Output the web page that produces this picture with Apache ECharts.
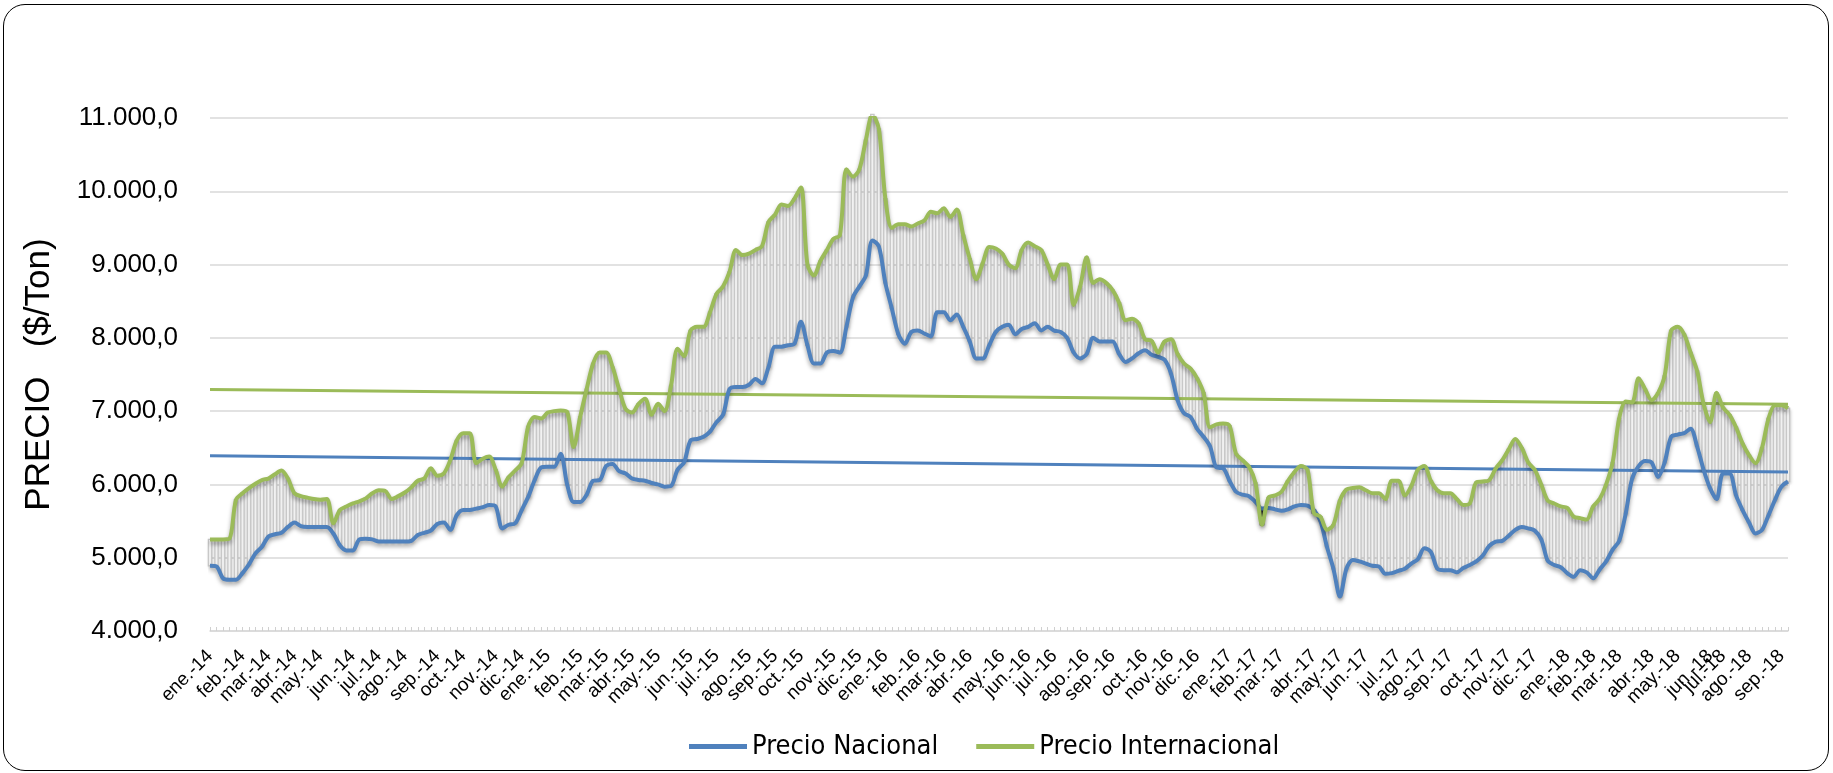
<!DOCTYPE html>
<html>
<head>
<meta charset="utf-8">
<script src="https://cdn.jsdelivr.net/npm/echarts@6/dist/echarts.min.js"></script>
<style>
  html, body { margin: 0; padding: 0; background: #fff; }
  #chart { width: 1833px; height: 773px; }
  #frame { position: absolute; left: 3px; top: 4px; width: 1824px; height: 765px;
           border: 1.5px solid #000; border-radius: 22px; pointer-events: none; }
</style>
</head>
<body>
<div id="chart"></div>
<div id="frame"></div>
<script>
// etiquetas de mes y cantidad de semanas (puntos) por mes
const monthLabels = [
  'ene.-14','feb.-14','mar.-14','abr.-14','may.-14','jun.-14','jul.-14','ago.-14','sep.-14','oct.-14','nov.-14','dic.-14',
  'ene.-15','feb.-15','mar.-15','abr.-15','may.-15','jun.-15','jul.-15','ago.-15','sep.-15','oct.-15','nov.-15','dic.-15',
  'ene.-16','feb.-16','mar.-16','abr.-16','may.-16','jun.-16','jul.-16','ago.-16','sep.-16','oct.-16','nov.-16','dic.-16',
  'ene.-17','feb.-17','mar.-17','abr.-17','may.-17','jun.-17','jul.-17','ago.-17','sep.-17','oct.-17','nov.-17','dic.-17',
  'ene.-18','feb.-18','mar.-18','abr.-18','may.-18','jun.-18','jul.-18','ago.-18','sep.-18'
];
const weeksPerMonth = [
  5,4,4,4,5,4,4,5,4,5,4,4,
  5,4,4,4,5,4,5,4,4,5,4,4,
  5,4,4,5,4,4,5,4,5,4,4,5,
  4,4,5,4,4,5,4,4,5,4,4,5,
  4,4,5,4,5,2,4,5,2
];

// precios semanales ($/Ton)
const precioNacional = [
  4890, 4880, 4720, 4700, 4700, 4790, 4910, 5060, 5150, 5290,
  5320, 5340, 5420, 5480, 5430, 5420, 5420, 5420, 5420, 5330,
  5170, 5100, 5100, 5250, 5260, 5250, 5220, 5220, 5220, 5220,
  5220, 5230, 5310, 5340, 5370, 5460, 5480, 5380, 5580, 5650,
  5650, 5670, 5690, 5720, 5700, 5400, 5450, 5470, 5650, 5830,
  6060, 6230, 6240, 6240, 6420, 6000, 5760, 5760, 5860, 6050,
  6060, 6250, 6280, 6180, 6150, 6080, 6060, 6050, 6020, 6000,
  5970, 5980, 6200, 6300, 6600, 6620, 6650, 6720, 6850, 6950,
  7300, 7330, 7330, 7360, 7440, 7380, 7600, 7880, 7880, 7900,
  7920, 8220, 7900, 7650, 7650, 7800, 7820, 7800, 8150, 8550,
  8700, 8850, 9330, 9250, 8750, 8400, 8050, 7920, 8080, 8100,
  8060, 8020, 8350, 8350, 8240, 8320, 8150, 7950, 7720, 7720,
  7900, 8080, 8150, 8180, 8050, 8120, 8150, 8200, 8100, 8150,
  8100, 8080, 8000, 7800, 7720, 7780, 8000, 7950, 7950, 7950,
  7780, 7670, 7720, 7790, 7830, 7770, 7740, 7700, 7510, 7150,
  6970, 6920, 6760, 6650, 6520, 6230, 6220, 6050, 5900, 5860,
  5840, 5760, 5670, 5680, 5660, 5640, 5660, 5700, 5720, 5710,
  5650, 5500, 5150, 4850, 4470, 4850, 4970, 4950, 4920, 4890,
  4880, 4780, 4790, 4820, 4850, 4920, 4980, 5130, 5080, 4850,
  4830, 4830, 4800, 4860, 4900, 4950, 5030, 5160, 5220, 5230,
  5300, 5380, 5420, 5400, 5370, 5250, 4960, 4900, 4870, 4790,
  4740, 4830, 4800, 4720, 4840, 4950, 5110, 5230, 5600, 6080,
  6250, 6320, 6300, 6100, 6300, 6650, 6680, 6700, 6760, 6520,
  6200, 5950, 5800, 6150, 6150, 5850, 5650, 5480, 5330, 5380,
  5580, 5790, 5970, 6040
];
const precioInternacional = [
  5250, 5250, 5250, 5260, 5790, 5880, 5950, 6010, 6060, 6080,
  6140, 6190, 6080, 5880, 5840, 5820, 5800, 5790, 5800, 5470,
  5650, 5700, 5740, 5770, 5810, 5880, 5920, 5910, 5800, 5840,
  5890, 5960, 6050, 6080, 6220, 6120, 6150, 6330, 6600, 6700,
  6700, 6290, 6350, 6380, 6200, 5970, 6100, 6190, 6290, 6790,
  6920, 6900, 6980, 7000, 7010, 6990, 6510, 6920, 7300, 7650,
  7800, 7800, 7600, 7300, 7030, 6980, 7100, 7170, 6950, 7100,
  7000, 7350, 7850, 7750, 8100, 8150, 8150, 8350, 8600, 8700,
  8900, 9200, 9130, 9150, 9200, 9250, 9580, 9680, 9820, 9800,
  9900, 10050, 9000, 8850, 9050, 9200, 9350, 9400, 10300, 10200,
  10300, 10700, 11050, 10850, 9900, 9500, 9550, 9550, 9520, 9560,
  9600, 9720, 9700, 9770, 9650, 9750, 9400, 9080, 8800, 9020,
  9240, 9220, 9150, 9000, 8950, 9200, 9300, 9250, 9200, 9000,
  8800, 9000, 9000, 8450, 8700, 9100, 8750, 8800, 8750, 8650,
  8480, 8240, 8260, 8200, 7980, 7960, 7800, 7950, 7980, 7780,
  7650, 7580, 7450, 7250, 6780, 6820, 6830, 6800, 6420, 6330,
  6240, 6020, 5450, 5820, 5850, 5900, 6050, 6170, 6250, 6200,
  5610, 5560, 5380, 5450, 5780, 5930, 5950, 5960, 5920, 5880,
  5880, 5800, 6050, 6050, 5850, 5980, 6200, 6250, 6050, 5920,
  5880, 5880, 5800, 5720, 5740, 6030, 6040, 6060, 6220, 6330,
  6480, 6620, 6500, 6300, 6200, 6000, 5780, 5740, 5700, 5680,
  5560, 5540, 5520, 5700, 5800, 6000, 6300, 6900, 7130, 7120,
  7450, 7300, 7150, 7250, 7480, 8100, 8150, 8050, 7800, 7550,
  7100, 6850, 7250, 7050, 6950, 6780, 6560, 6400, 6290, 6500,
  6900, 7080, 7080, 7040
];
// líneas de tendencia (inicio, fin)
const trendNacional = [6390, 6170];
const trendInternacional = [7295, 7095];

const yTicks = { min: 4000, max: 11000, step: 1000 };

// categorías: una por semana, etiqueta sólo en la primera de cada mes
const categories = [];
const monthStart = new Set();
monthLabels.forEach((m, k) => {
  monthStart.add(categories.length);
  for (let w = 0; w < weeksPerMonth[k]; w++) categories.push(m + '#' + w);
});
const last = categories.length - 1;

const fmtNum = v => Math.round(v).toString().replace(/\B(?=(\d{3})+(?!\d))/g, '.') + ',0';

let chartDom = document.getElementById('chart');
let chart = echarts.init(chartDom);
var option;

option = {
    animation: false,
    textStyle: { fontFamily: 'Liberation Sans, Arial, sans-serif' },
    grid: { left: 210, right: 45, top: 118, bottom: 142 },
    legend: {
        data: ['Precio Nacional', 'Precio Internacional'],
        left: 684,
        top: 728,
        icon: 'rect',
        itemWidth: 58,
        itemHeight: 5,
        itemGap: 38,
        textStyle: { fontSize: 27, color: '#000', fontFamily: 'Liberation Sans Narrow, DejaVu Sans Condensed, sans-serif' }
    },
    xAxis: {
        type: 'category',
        data: categories,
        boundaryGap: false,
        axisLine: { lineStyle: { color: '#d9d9d9', width: 1.5 } },
        axisTick: { show: true, interval: 0, inside: true, length: 4, lineStyle: { color: '#d0d0d0' } },
        axisLabel: {
            interval: idx => monthStart.has(idx),
            rotate: 45,
            margin: 22,
            fontSize: 19,
            color: '#000',
            formatter: v => v.split('#')[0]
        },
        splitLine: { show: false }
    },
    yAxis: {
        type: 'value',
        min: yTicks.min,
        max: yTicks.max,
        interval: yTicks.step,
        axisLine: { show: false },
        axisTick: { show: false },
        axisLabel: { fontSize: 26, color: '#000', margin: 32, formatter: fmtNum },
        splitLine: { lineStyle: { color: '#d9d9d9', width: 1.5 } },
        name: 'PRECIO   ($/Ton)',
        nameLocation: 'middle',
        nameGap: 153,
        nameTextStyle: { fontSize: 35, color: '#000' }
    },
    series: [
        {
            // barras ascendentes / descendentes entre ambas series
            name: 'barras',
            type: 'custom',
            silent: true,
            z: 1,
            data: precioNacional.map((v, i) => [i, v, precioInternacional[i]]),
            encode: { x: 0, y: [1, 2] },
            renderItem: function (params, api) {
                const i = api.value(0);
                const lo = api.coord([i, api.value(1)]);
                const hi = api.coord([i, api.value(2)]);
                const w = api.size([1, 0])[0] * 0.5;
                const down = api.value(2) < api.value(1);
                return {
                    type: 'rect',
                    shape: { x: lo[0] - w / 2, y: Math.min(lo[1], hi[1]), width: w, height: Math.abs(lo[1] - hi[1]) },
                    style: {
                        fill: down ? '#404040' : '#ffffff',
                        stroke: down ? '#404040' : '#c8c8c8',
                        lineWidth: 1.4,
                        shadowColor: 'rgba(0,0,0,0.13)',
                        shadowBlur: 3,
                        shadowOffsetX: 1,
                        shadowOffsetY: 2
                    }
                };
            }
        },
        {
            name: 'tendencia nacional',
            type: 'line',
            z: 2,
            silent: true,
            showSymbol: false,
            data: [[0, trendNacional[0]], [last, trendNacional[1]]],
            lineStyle: { color: '#4f81bd', width: 3 }
        },
        {
            name: 'tendencia internacional',
            type: 'line',
            z: 2,
            silent: true,
            showSymbol: false,
            data: [[0, trendInternacional[0]], [last, trendInternacional[1]]],
            lineStyle: { color: '#9bbb59', width: 3 }
        },
        {
            name: 'Precio Nacional',
            type: 'line',
            z: 3,
            showSymbol: false,
            smooth: 0.3,
            data: precioNacional,
            itemStyle: { color: '#4f81bd' },
            lineStyle: { color: '#4f81bd', width: 4, shadowColor: 'rgba(0,0,0,0.35)', shadowBlur: 4, shadowOffsetY: 3 }
        },
        {
            name: 'Precio Internacional',
            type: 'line',
            z: 3,
            showSymbol: false,
            smooth: 0.3,
            data: precioInternacional,
            itemStyle: { color: '#9bbb59' },
            lineStyle: { color: '#9bbb59', width: 4, shadowColor: 'rgba(0,0,0,0.35)', shadowBlur: 4, shadowOffsetY: 3 }
        }
    ]
};
chart.setOption(option);
</script>
</body>
</html>
